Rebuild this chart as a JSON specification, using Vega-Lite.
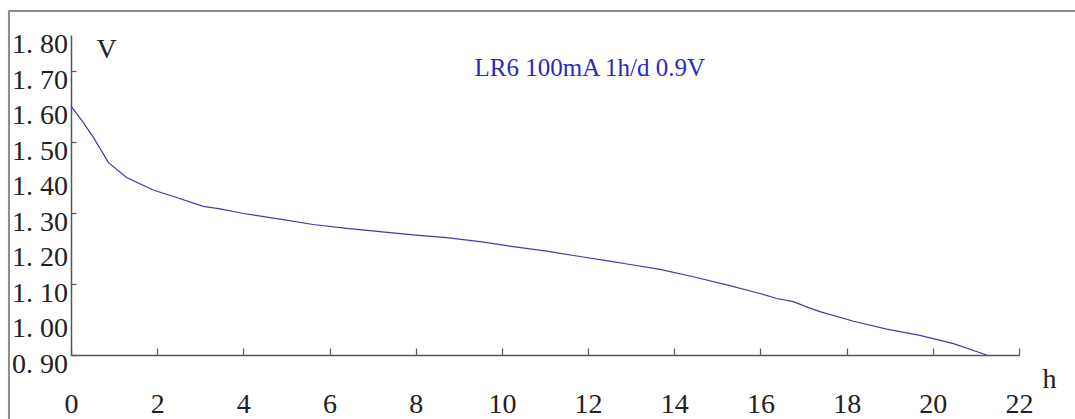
{
  "$schema": "https://vega.github.io/schema/vega-lite/v6.json",
  "width": 948,
  "height": 320,
  "autosize": {"type": "none"},
  "padding": {"left": 71, "top": 35, "right": 56, "bottom": 64},
  "background": "white",
  "config": {"view": {"stroke": null}, "axis": {"labelOverlap": false}},
  "layer": [
    {
      "data": {"values": [
        {"h": 0, "v": 1.600}, {"h": 0.25, "v": 1.560}, {"h": 0.52, "v": 1.512}, {"h": 0.87, "v": 1.441},
        {"h": 1.29, "v": 1.399}, {"h": 1.91, "v": 1.364}, {"h": 2.45, "v": 1.343}, {"h": 3.07, "v": 1.318},
        {"h": 3.46, "v": 1.311}, {"h": 4.0, "v": 1.298}, {"h": 4.85, "v": 1.282}, {"h": 5.62, "v": 1.267},
        {"h": 6.40, "v": 1.256}, {"h": 7.17, "v": 1.247}, {"h": 7.94, "v": 1.238}, {"h": 8.72, "v": 1.230},
        {"h": 9.49, "v": 1.219}, {"h": 10.26, "v": 1.205}, {"h": 11.04, "v": 1.192}, {"h": 11.81, "v": 1.177},
        {"h": 12.50, "v": 1.164}, {"h": 12.90, "v": 1.156}, {"h": 13.67, "v": 1.141}, {"h": 14.44, "v": 1.120},
        {"h": 15.22, "v": 1.097}, {"h": 15.99, "v": 1.073}, {"h": 16.38, "v": 1.059}, {"h": 16.76, "v": 1.050},
        {"h": 17.15, "v": 1.032}, {"h": 17.38, "v": 1.022}, {"h": 18.16, "v": 0.995}, {"h": 18.93, "v": 0.973},
        {"h": 19.70, "v": 0.955}, {"h": 20.48, "v": 0.932}, {"h": 21.25, "v": 0.900}
      ]},
      "mark": {"type": "line", "color": "#3d3da6", "strokeWidth": 1.2},
      "encoding": {
        "x": {
          "field": "h", "type": "quantitative",
          "scale": {"domain": [0, 22], "nice": false, "zero": false},
          "axis": {
            "values": [0, 2, 4, 6, 8, 10, 12, 14, 16, 18, 20, 22],
            "grid": false,
            "domainColor": "#555555", "domainWidth": 1.5,
            "tickColor": "#555555", "tickWidth": 1.2, "tickSize": -7,
            "labelPadding": 42, "labelFont": "Liberation Serif", "labelFontSize": 28,
            "labelColor": "#222222", "labelFlush": false, "labelOverlap": false,
            "title": "h", "titleFont": "Liberation Serif", "titleFontSize": 28, "titleFontWeight": "normal",
            "titleColor": "#222222", "titleX": 978, "titleY": 24, "titleAlign": "center", "titleBaseline": "middle", "titleAngle": 0
          }
        },
        "y": {
          "field": "v", "type": "quantitative",
          "scale": {"domain": [0.9, 1.8], "nice": false, "zero": false},
          "axis": {
            "values": [0.9, 1.0, 1.1, 1.2, 1.3, 1.4, 1.5, 1.6, 1.7, 1.8],
            "labels": false,
            "grid": false,
            "domainColor": "#555555", "domainWidth": 1.5,
            "tickColor": "#555555", "tickWidth": 1.2, "tickSize": -5,
            "title": "V", "titleFont": "Liberation Serif", "titleFontSize": 28, "titleFontWeight": "normal",
            "titleColor": "#222222", "titleX": 35, "titleY": 14, "titleAlign": "center", "titleBaseline": "middle", "titleAngle": 0
          }
        }
      }
    },
    {
      "data": {"values": [
        {"tick": 0.9, "label": "0. 90"}, {"tick": 1.0, "label": "1. 00"}, {"tick": 1.1, "label": "1. 10"},
        {"tick": 1.2, "label": "1. 20"}, {"tick": 1.3, "label": "1. 30"}, {"tick": 1.4, "label": "1. 40"},
        {"tick": 1.5, "label": "1. 50"}, {"tick": 1.6, "label": "1. 60"}, {"tick": 1.7, "label": "1. 70"},
        {"tick": 1.8, "label": "1. 80"}
      ]},
      "mark": {"type": "text", "font": "Liberation Serif", "fontSize": 28, "color": "#222222", "align": "right", "baseline": "middle", "dx": -3, "dy": 10, "clip": false},
      "encoding": {
        "text": {"field": "label"},
        "x": {"datum": 0, "type": "quantitative"},
        "y": {"field": "tick", "type": "quantitative", "title": "V"}
      }
    },
    {
      "data": {"values": [{"frame": "border"}]},
      "mark": {"type": "rect", "fill": null, "stroke": "#8c8c8c", "strokeWidth": 2, "clip": false},
      "encoding": {
        "x": {"datum": -1.44, "type": "quantitative"},
        "x2": {"datum": 25},
        "y": {"datum": 1.8674, "type": "quantitative"},
        "y2": {"datum": 0.68}
      }
    },
    {
      "data": {"values": [{"note": "LR6 100mA 1h/d 0.9V"}]},
      "mark": {"type": "text", "font": "Liberation Serif", "fontSize": 25, "color": "#2a2ac0", "align": "center", "baseline": "middle"},
      "encoding": {
        "text": {"field": "note"},
        "x": {"datum": 12.04, "type": "quantitative"},
        "y": {"datum": 1.708, "type": "quantitative"}
      }
    }
  ]
}
